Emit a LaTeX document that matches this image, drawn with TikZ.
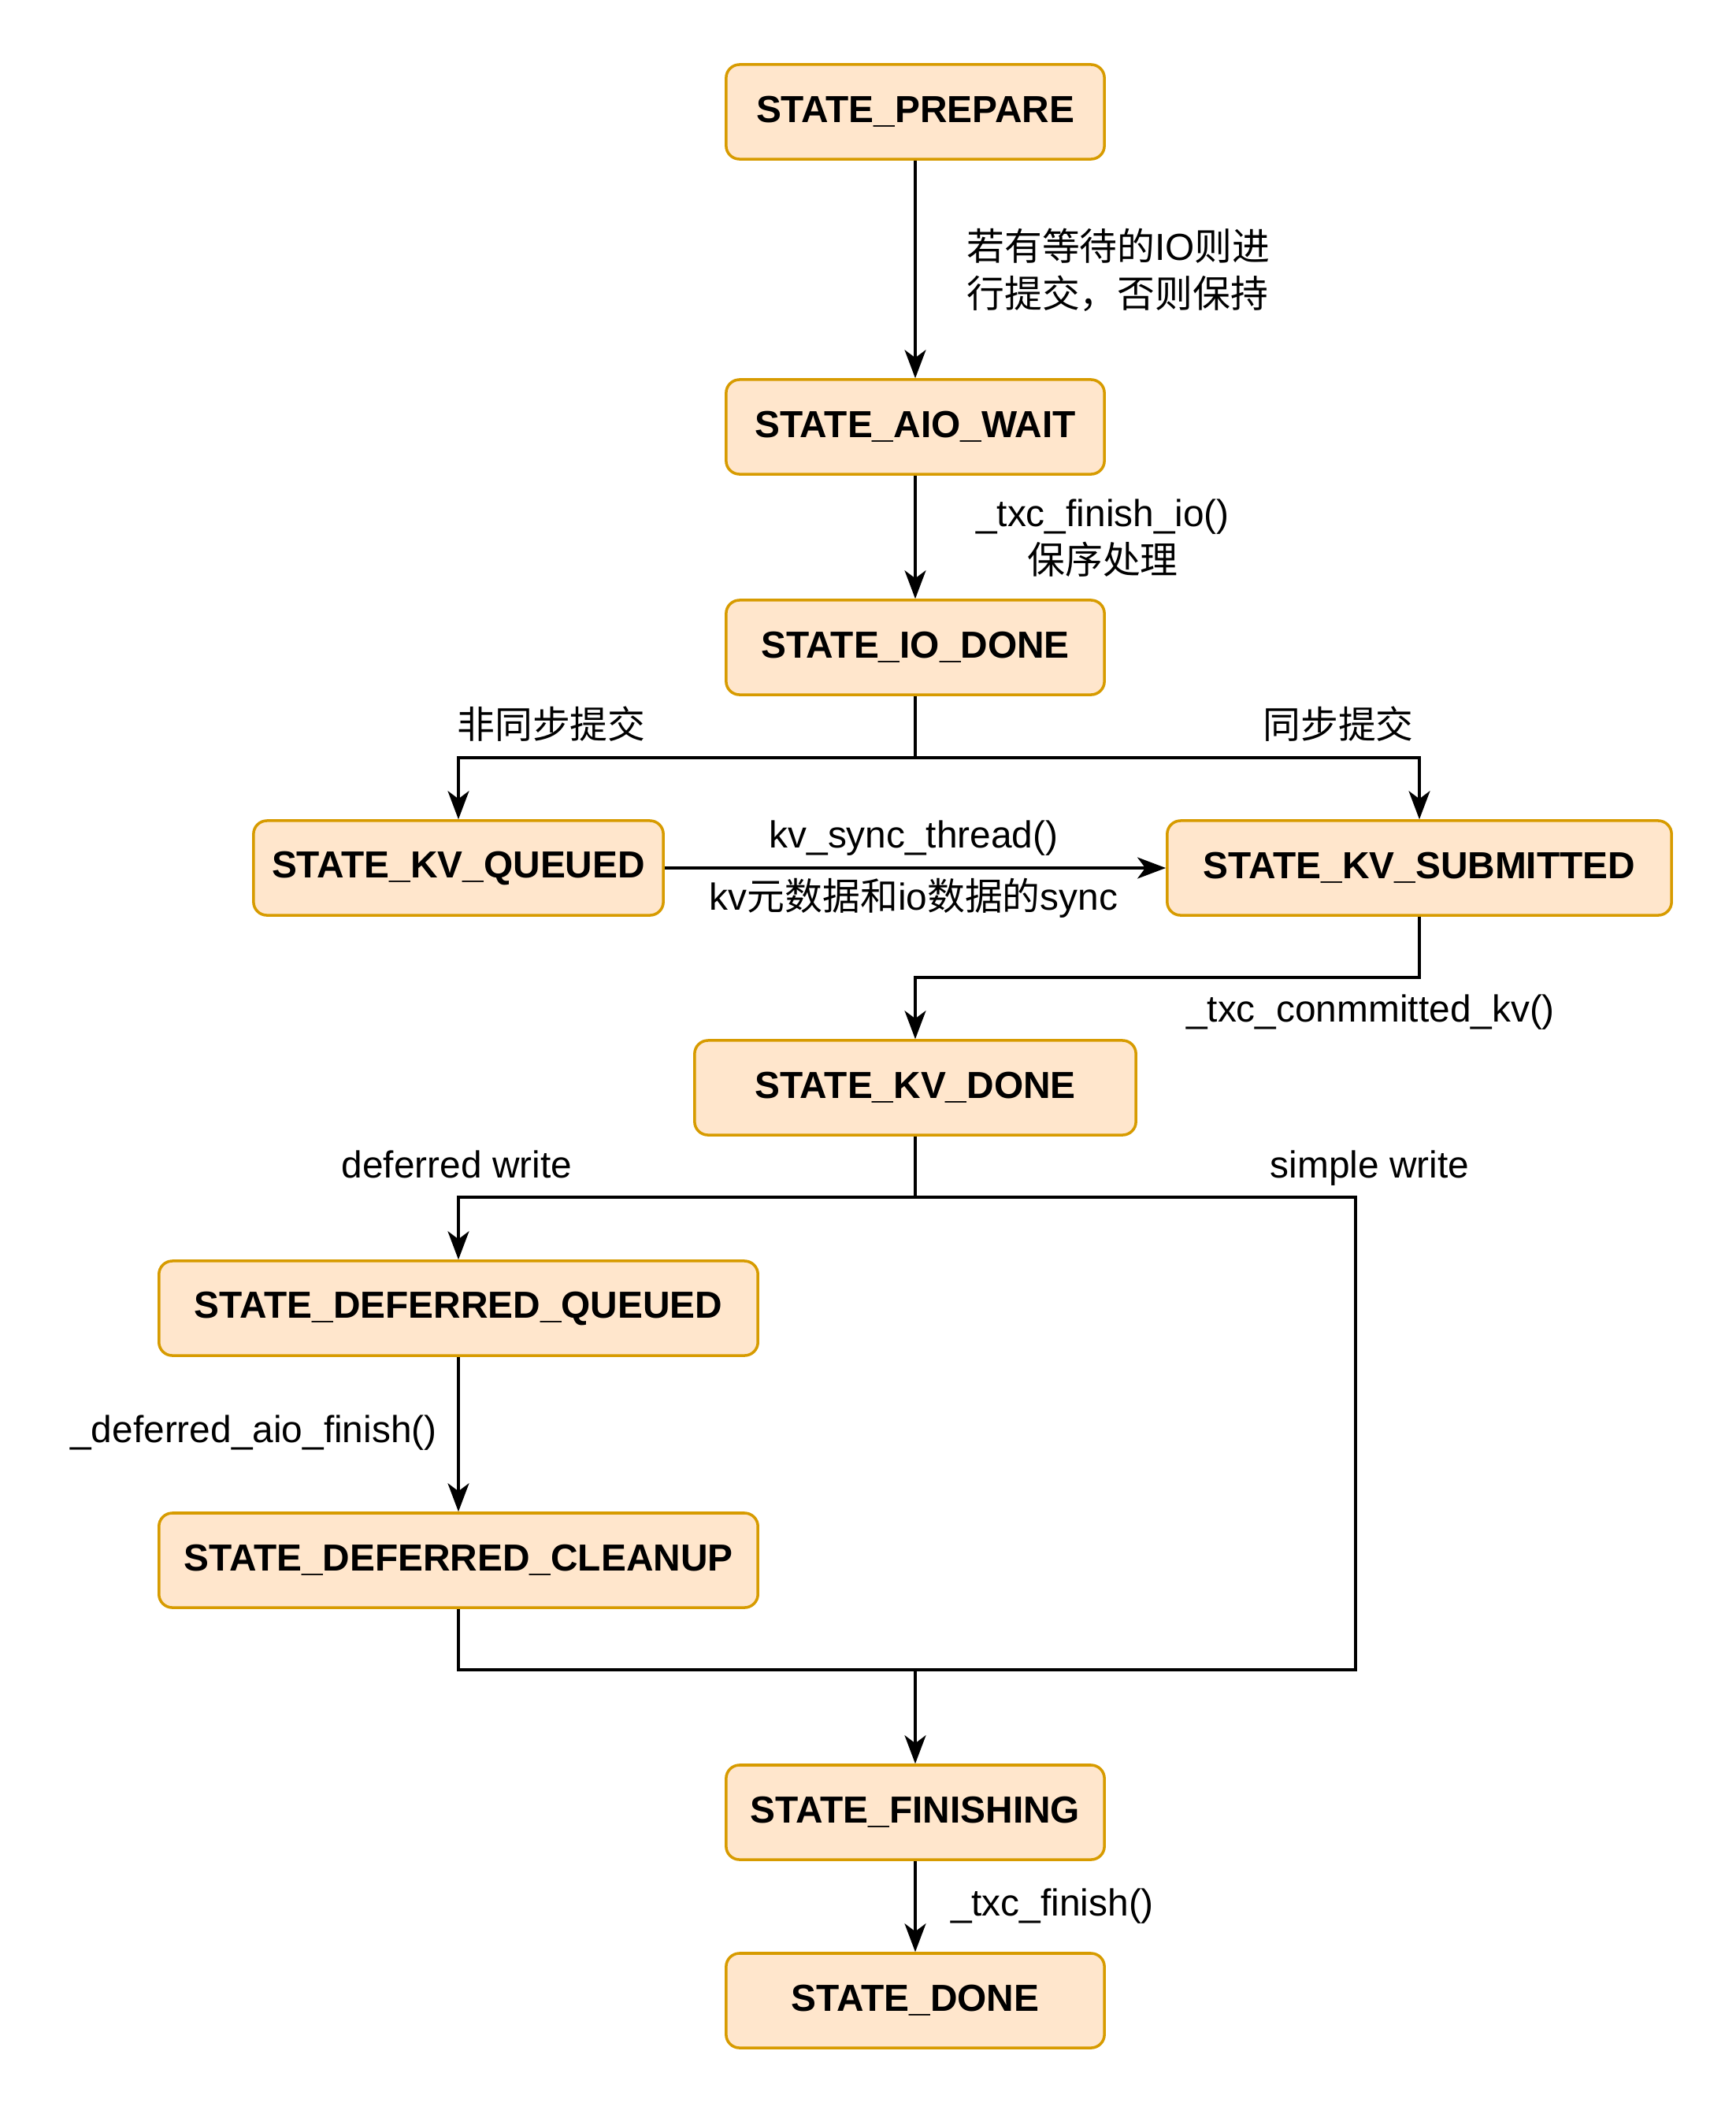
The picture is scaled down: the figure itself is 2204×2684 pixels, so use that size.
\documentclass[tikz,border=0pt]{standalone}
\usepackage{fontspec}
\setmainfont{Liberation Sans}
\newfontfamily\cjk{Noto Sans CJK SC}
\usetikzlibrary{arrows.meta}
\definecolor{boxfill}{HTML}{FFE6CC}
\definecolor{boxline}{HTML}{D79B00}
\tikzset{
  state/.style={draw=boxline, fill=boxfill, line width=1pt, rounded corners=0.17cm,
    minimum height=1.2cm, inner sep=0pt, font=\fontsize{13.6}{16}\selectfont\bfseries},
  lbl/.style={font=\fontsize{13.6}{16.5}\selectfont, align=center, inner sep=0pt},
  conn/.style={line width=0.95pt, -{Stealth[length=0.36cm,width=0.27cm,inset=0.1cm]}},
  plainline/.style={line width=0.95pt}
}
\begin{document}
\begin{tikzpicture}[x=0.01cm,y=-0.01cm]
\useasboundingbox (0,0) rectangle (2204,2684);
% states
\node[state, minimum width=4.8cm] (prep) at (1162,142) {STATE\_PREPARE};
\node[state, minimum width=4.8cm] (aio) at (1162,542) {STATE\_AIO\_WAIT};
\node[state, minimum width=4.8cm] (iod) at (1162,822) {STATE\_IO\_DONE};
\node[state, minimum width=5.2cm] (kvq) at (582,1102) {STATE\_KV\_QUEUED};
\node[state, minimum width=6.4cm] (kvs) at (1802,1102) {STATE\_KV\_SUBMITTED};
\node[state, minimum width=5.6cm] (kvd) at (1162,1381) {STATE\_KV\_DONE};
\node[state, minimum width=7.6cm] (dq) at (582,1661) {STATE\_DEFERRED\_QUEUED};
\node[state, minimum width=7.6cm] (dc) at (582,1981) {STATE\_DEFERRED\_CLEANUP};
\node[state, minimum width=4.8cm] (fin) at (1162,2301) {STATE\_FINISHING};
\node[state, minimum width=4.8cm] (done) at (1162,2540) {STATE\_DONE};
% junction points
\coordinate (b1) at (1162,962);
\coordinate (b2) at (1802,1241);
\coordinate (b3) at (1162,1520);
\coordinate (r1) at (1721,1520);
\coordinate (r2) at (1721,2120);
\coordinate (m) at (1162,2120);
% connectors
\draw[conn] (prep) -- (aio);
\draw[conn] (aio) -- (iod);
\draw[conn] (iod.south) -- (b1) -| (kvq.north);
\draw[conn] (b1) -| (kvs.north);
\draw[conn] (kvq) -- (kvs);
\draw[conn] (kvs.south) -- (b2) -| (kvd.north);
\draw[conn] (kvd.south) -- (b3) -| (dq.north);
\draw[conn] (dq) -- (dc);
\draw[plainline] (b3) -- (r1) -- (r2) -- (m);
\draw[plainline] (dc.south) |- (m);
\draw[conn] (m) -- (fin);
\draw[conn] (fin) -- (done);
% labels
\node[lbl, align=left] (l1) at (1420,343) {{\cjk 若有等待的}IO{\cjk 则进}\\[0.02cm]{\cjk 行提交，否则保持}};
\node[lbl] (l2) at (1400,683) {\_txc\_finish\_io()\\[0.02cm]{\cjk 保序处理}};
\node[lbl] (l3) at (700,919) {\cjk 非同步提交};
\node[lbl] (l4) at (1699,919) {\cjk 同步提交};
\node[lbl] (l5) at (1160,1064) {kv\_sync\_thread()};
\node[lbl] (l6) at (1160,1140) {kv{\cjk 元数据和}io{\cjk 数据的}sync};
\node[lbl] (l7) at (1740,1285) {\_txc\_conmmitted\_kv()};
\node[lbl] (l8) at (580,1478) {deferred write};
\node[lbl] (l9) at (1739,1483) {simple write};
\node[lbl] (l10) at (322,1819) {\_deferred\_aio\_finish()};
\node[lbl] (l11) at (1336,2420) {\_txc\_finish()};
\end{tikzpicture}
\end{document}
